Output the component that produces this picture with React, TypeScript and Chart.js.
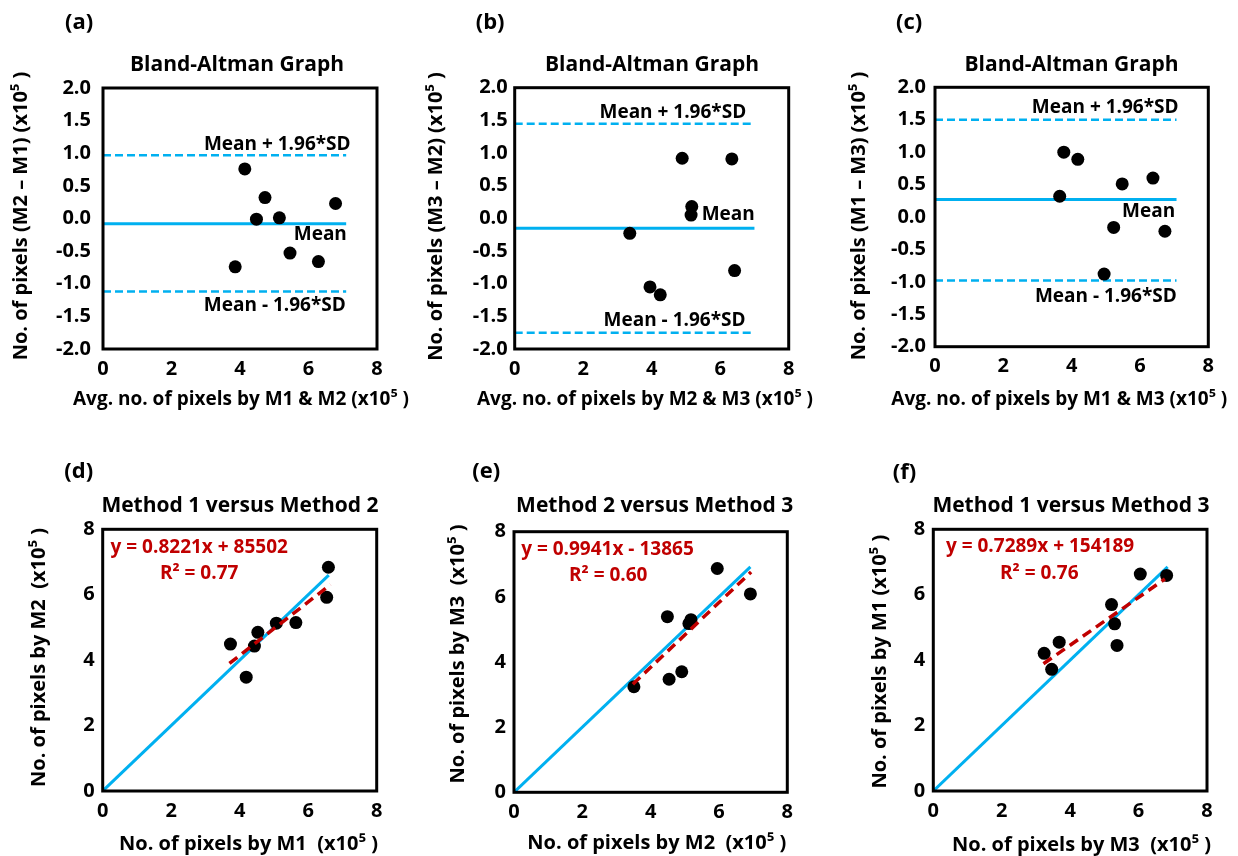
import React, { useEffect, useRef } from 'react';
import { Chart, registerables } from 'chart.js';

Chart.register(...registerables);

const FAMILY = '"Open Sans", "DejaVu Sans", sans-serif';
const BLUE = '#00B0F0';
const RED = '#C00000';

// ---------- Tick labels ----------
const baYTicks = [-2.0, -1.5, -1.0, -0.5, 0.0, 0.5, 1.0, 1.5, 2.0];
const xTicks = [0, 2, 4, 6, 8];
const scatterYTicks = [0, 2, 4, 6, 8];

// ---------- (a) Bland-Altman: M2 - M1 (x10^5) ----------
const avgM1M2 = [4.14, 4.73, 4.48, 5.15, 6.79, 5.46, 6.29, 3.86];
const diffM2M1 = [0.76, 0.32, -0.01, 0.01, 0.23, -0.53, -0.66, -0.74];
const limitsM2M1 = [0.97, -0.08, -1.12]; // upper, mean, lower
const lineEndA = 7.1;

// ---------- (b) Bland-Altman: M3 - M2 ----------
const avgM2M3 = [4.89, 6.34, 5.17, 5.15, 3.36, 3.95, 4.25, 6.42];
const diffM3M2 = [0.92, 0.91, 0.18, 0.05, -0.23, -1.05, -1.17, -0.8];
const limitsM3M2 = [1.45, -0.15, -1.75];
const lineEndB = 7.0;

// ---------- (c) Bland-Altman: M1 - M3 ----------
const avgM1M3 = [3.77, 4.18, 3.65, 5.48, 6.38, 5.23, 6.73, 4.95];
const diffM1M3 = [1.0, 0.89, 0.32, 0.51, 0.6, -0.16, -0.22, -0.88];
const limitsM1M3 = [1.5, 0.27, -0.98];
const lineEndC = 7.07;

// ---------- (d) Method 1 vs Method 2 ----------
const dM1 = [6.59, 6.54, 5.64, 5.07, 4.53, 4.43, 3.73, 4.19];
const dM2 = [6.84, 5.92, 5.15, 5.13, 4.85, 4.43, 4.49, 3.48];
const dFitX = [3.7, 6.65];
const dFitY = [3.9, 6.31];
const dIdentityEnd = 6.6;

// ---------- (e) Method 2 vs Method 3 ----------
const eM2 = [5.95, 6.92, 4.49, 5.18, 5.12, 4.91, 4.54, 3.51];
const eM3 = [6.87, 6.09, 5.39, 5.3, 5.18, 3.7, 3.47, 3.24];
const eFitX = [3.48, 6.94];
const eFitY = [3.32, 6.76];
const eIdentityEnd = 6.92;

// ---------- (f) Method 1 vs Method 3 ----------
const fM3 = [6.05, 6.82, 5.21, 5.3, 5.37, 3.68, 3.24, 3.46];
const fM1 = [6.63, 6.59, 5.7, 5.11, 4.45, 4.55, 4.21, 3.72];
const fFitX = [3.22, 6.77];
const fFitY = [3.89, 6.48];
const fIdentityEnd = 6.85;

type TextItem = {
  text: string;
  x: number;
  y: number;
  align: CanvasTextAlign;
  color: string;
  size: number;
  data?: boolean;
  rotate?: boolean;
};

type Spec = {
  id: string;
  left: number;
  top: number;
  w: number;
  h: number;
  pad: { left: number; top: number; right: number; bottom: number };
  yTickPad: number;
  xTickPad: number;
  yTicks: number[];
  yMin: number;
  yMax: number;
  yFmt: (v: number) => string;
  datasets: any[];
  texts: TextItem[];
};

const Y_SCALE_W = 60;
const X_SCALE_H = 40;

const pts = (xs: number[], ys: number[]) => xs.map((v, i) => ({ x: v, y: ys[i] }));

function baDatasets(avg: number[], diff: number[], limits: number[], lineEnd: number) {
  const hline = (v: number) => [
    { x: 0, y: v },
    { x: lineEnd, y: v },
  ];
  return [
    {
      data: pts(avg, diff),
      showLine: false,
      pointRadius: 6.5,
      pointHoverRadius: 6.5,
      pointBackgroundColor: '#000',
      pointBorderWidth: 0,
      order: 0,
    },
    { data: hline(limits[1]), showLine: true, borderColor: BLUE, borderWidth: 3, pointRadius: 0, order: 1 },
    { data: hline(limits[0]), showLine: true, borderColor: BLUE, borderWidth: 2.5, borderDash: [8, 4], pointRadius: 0, order: 1 },
    { data: hline(limits[2]), showLine: true, borderColor: BLUE, borderWidth: 2.5, borderDash: [8, 4], pointRadius: 0, order: 1 },
  ];
}

function scatterDatasets(xs: number[], ys: number[], fitX: number[], fitY: number[], idEnd: number) {
  return [
    {
      data: pts(xs, ys),
      showLine: false,
      pointRadius: 6.5,
      pointHoverRadius: 6.5,
      pointBackgroundColor: '#000',
      pointBorderWidth: 0,
      order: 1,
    },
    {
      data: [
        { x: 0, y: 0 },
        { x: idEnd, y: idEnd },
      ],
      showLine: true,
      borderColor: BLUE,
      borderWidth: 3,
      pointRadius: 0,
      order: 2,
    },
    {
      data: pts(fitX, fitY),
      showLine: true,
      borderColor: RED,
      borderWidth: 3.5,
      borderDash: [10, 6],
      pointRadius: 0,
      order: 0,
    },
  ];
}

const fmt1 = (v: number) => Number(v).toFixed(1);
const fmt0 = (v: number) => String(v);

function axisTexts(xTitle: string, xPos: number[], xSize: number, yTitle: string, yPos: number[], ySize: number): TextItem[] {
  return [
    { text: xTitle, x: xPos[0], y: xPos[1], align: 'center', color: '#000', size: xSize },
    { text: yTitle, x: yPos[0], y: yPos[1], align: 'center', color: '#000', size: ySize, rotate: true },
  ];
}

function baTexts(label: string, labelX: number, titleX: number, ann: number[][]): TextItem[] {
  return [
    { text: label, x: labelX, y: 23, align: 'left', color: '#000', size: 22 },
    { text: 'Bland-Altman Graph', x: titleX, y: 65, align: 'center', color: '#000', size: 21 },
    { text: 'Mean + 1.96*SD', x: ann[0][0], y: ann[0][1], align: 'right', color: '#000', size: 19, data: true },
    { text: 'Mean', x: ann[1][0], y: ann[1][1], align: 'right', color: '#000', size: 19, data: true },
    { text: 'Mean - 1.96*SD', x: ann[2][0], y: ann[2][1], align: 'right', color: '#000', size: 19, data: true },
  ];
}

function scTexts(label: string, labelX: number, labelY: number, title: string, titleX: number, eq: string, r2: string, ann: number[][]): TextItem[] {
  return [
    { text: label, x: labelX, y: labelY, align: 'left', color: '#000', size: 22 },
    { text: title, x: titleX, y: 78, align: 'center', color: '#000', size: 21 },
    { text: eq, x: ann[0][0], y: ann[0][1], align: 'left', color: RED, size: 19, data: true },
    { text: r2, x: ann[1][0], y: ann[1][1], align: 'left', color: RED, size: 19, data: true },
  ];
}

const panels: Spec[] = [
  {
    id: 'a', left: 0, top: 0, w: 413, h: 428,
    pad: { left: 103 - Y_SCALE_W, top: 88, right: 36, bottom: 428 - 349 - X_SCALE_H }, yTickPad: 12, xTickPad: 8,
    yTicks: baYTicks, yMin: -2, yMax: 2, yFmt: fmt1,
    datasets: baDatasets(avgM1M2, diffM2M1, limitsM2M1, lineEndA),
    texts: [
      ...baTexts('(a)', 65, 237, [[7.23, 1.14], [7.12, -0.25], [7.09, -1.34]]),
      ...axisTexts('Avg. no. of pixels by M1 & M2 (x10\u2075 )', [241, 400], 19, 'No. of pixels (M2 \u2013 M1) (x10\u2075 )', [21.7, 216], 20),
    ],
  },
  {
    id: 'b', left: 413, top: 0, w: 413, h: 428,
    pad: { left: 101.7 - Y_SCALE_W, top: 87.7, right: 37.3, bottom: 428 - 349 - X_SCALE_H }, yTickPad: 7, xTickPad: 8,
    yTicks: baYTicks, yMin: -2, yMax: 2, yFmt: fmt1,
    datasets: baDatasets(avgM2M3, diffM3M2, limitsM3M2, lineEndB),
    texts: [
      ...baTexts('(b)', 62.7, 239, [[6.76, 1.62], [7.01, 0.05], [6.74, -1.57]]),
      ...axisTexts('Avg. no. of pixels by M2 & M3 (x10\u2075 )', [232, 400], 19, 'No. of pixels (M3 \u2013 M2) (x10\u2075 )', [23.7, 216.5], 20),
    ],
  },
  {
    id: 'c', left: 826, top: 0, w: 412, h: 428,
    pad: { left: 109 - Y_SCALE_W, top: 87.3, right: 29.7, bottom: 428 - 346.7 - X_SCALE_H }, yTickPad: 9, xTickPad: 8,
    yTicks: baYTicks, yMin: -2, yMax: 2, yFmt: fmt1,
    datasets: baDatasets(avgM1M3, diffM1M3, limitsM1M3, lineEndC),
    texts: [
      ...baTexts('(c)', 70, 245.5, [[7.13, 1.69], [7.03, 0.08], [7.08, -1.22]]),
      ...axisTexts('Avg. no. of pixels by M1 & M3 (x10\u2075 )', [233.3, 399.3], 19, 'No. of pixels (M1 \u2013 M3) (x10\u2075 )', [33.7, 216], 20),
    ],
  },
  {
    id: 'd', left: 0, top: 428, w: 413, h: 428,
    pad: { left: 102.7 - Y_SCALE_W, top: 101.3, right: 36.3, bottom: 428 - 363 - X_SCALE_H }, yTickPad: 8, xTickPad: 8,
    yTicks: scatterYTicks, yMin: 0, yMax: 8, yFmt: fmt0,
    datasets: scatterDatasets(dM1, dM2, dFitX, dFitY, dIdentityEnd),
    texts: [
      ...scTexts('(d)', 64.3, 44, 'Method 1 versus Method 2', 240, 'y = 0.8221x + 85502', 'R\u00B2 = 0.77', [[0.23, 7.45], [1.67, 6.66]]),
      ...axisTexts('No. of pixels by M1  (x10\u2075 )', [248.5, 416.7], 20, 'No. of pixels by M2  (x10\u2075 )', [39.5, 229.5], 20),
    ],
  },
  {
    id: 'e', left: 413, top: 428, w: 413, h: 428,
    pad: { left: 101 - Y_SCALE_W, top: 103.7, right: 38.7, bottom: 428 - 364.3 - X_SCALE_H }, yTickPad: 8, xTickPad: 8,
    yTicks: scatterYTicks, yMin: 0, yMax: 8, yFmt: fmt0,
    datasets: scatterDatasets(eM2, eM3, eFitX, eFitY, eIdentityEnd),
    texts: [
      ...scTexts('(e)', 59.3, 44, 'Method 2 versus Method 3', 241.7, 'y = 0.9941x - 13865', 'R\u00B2 = 0.60', [[0.21, 7.46], [1.61, 6.64]]),
      ...axisTexts('No. of pixels by M2  (x10\u2075 )', [243.8, 415.7], 20, 'No. of pixels by M3  (x10\u2075 )', [45.5, 226], 20),
    ],
  },
  {
    id: 'f', left: 826, top: 428, w: 412, h: 428,
    pad: { left: 107.3 - Y_SCALE_W, top: 101.3, right: 31, bottom: 428 - 363 - X_SCALE_H }, yTickPad: 8, xTickPad: 8,
    yTicks: scatterYTicks, yMin: 0, yMax: 8, yFmt: fmt0,
    datasets: scatterDatasets(fM3, fM1, fFitX, fFitY, fIdentityEnd),
    texts: [
      ...scTexts('(f)', 66.7, 45, 'Method 1 versus Method 3', 245, 'y = 0.7289x + 154189', 'R\u00B2 = 0.76', [[0.37, 7.47], [1.95, 6.66]]),
      ...axisTexts('No. of pixels by M3  (x10\u2075 )', [255.5, 417.3], 20, 'No. of pixels by M1 (x10\u2075 )', [54.2, 233.7], 20),
    ],
  },
];

const decorPlugin = {
  id: 'panelDecor',
  afterDraw(chart: any, _args: any, opts: any) {
    const { ctx, chartArea: a, scales } = chart;
    ctx.save();
    ctx.lineWidth = 3;
    ctx.strokeStyle = '#000';
    ctx.strokeRect(a.left, a.top, a.right - a.left, a.bottom - a.top);
    const texts: TextItem[] = opts.texts || [];
    for (const t of texts) {
      ctx.save();
      ctx.font = `bold ${t.size}px ${FAMILY}`;
      ctx.fillStyle = t.color;
      ctx.textAlign = t.align;
      ctx.textBaseline = 'middle';
      const px = t.data ? scales.x.getPixelForValue(t.x) : t.x;
      const py = t.data ? scales.y.getPixelForValue(t.y) : t.y;
      if (t.rotate) {
        ctx.translate(px, py);
        ctx.rotate(-Math.PI / 2);
        ctx.fillText(t.text, 0, 0);
      } else {
        ctx.fillText(t.text, px, py);
      }
      ctx.restore();
    }
    ctx.restore();
  },
};

function buildConfig(s: Spec): any {
  const tickFont = { family: FAMILY, size: 20, weight: 'bold' as const };
  return {
    type: 'scatter',
    data: { datasets: s.datasets },
    plugins: [decorPlugin],
    options: {
      responsive: false,
      animation: false,
      devicePixelRatio: 1,
      events: [],
      layout: { padding: s.pad },
      plugins: {
        legend: { display: false },
        tooltip: { enabled: false },
        title: { display: false },
        panelDecor: { texts: s.texts },
      },
      scales: {
        x: {
          type: 'linear',
          min: 0,
          max: 8,
          afterBuildTicks: (sc: any) => {
            sc.ticks = xTicks.map((v) => ({ value: v }));
          },
          afterFit: (sc: any) => {
            sc.height = X_SCALE_H;
          },
          grid: { display: false, drawTicks: false },
          border: { display: false },
          ticks: { color: '#000', font: tickFont, padding: s.xTickPad, maxRotation: 0, autoSkip: false, callback: (v: any) => fmt0(v) },
          title: { display: false },
        },
        y: {
          type: 'linear',
          min: s.yMin,
          max: s.yMax,
          afterBuildTicks: (sc: any) => {
            sc.ticks = s.yTicks.map((v) => ({ value: v }));
          },
          afterFit: (sc: any) => {
            sc.width = Y_SCALE_W;
          },
          grid: { display: false, drawTicks: false },
          border: { display: false },
          ticks: { color: '#000', font: tickFont, padding: s.yTickPad, autoSkip: false, callback: (v: any) => s.yFmt(v) },
          title: { display: false },
        },
      },
    },
  };
}

function Panel({ spec }: { spec: Spec }) {
  const ref = useRef<HTMLCanvasElement>(null);
  useEffect(() => {
    if (!ref.current) return;
    const chart = new Chart(ref.current, buildConfig(spec));
    return () => chart.destroy();
  }, [spec]);
  return (
    <canvas
      ref={ref}
      width={spec.w}
      height={spec.h}
      style={{ position: 'absolute', left: spec.left, top: spec.top, width: spec.w, height: spec.h }}
    />
  );
}

export default function App() {
  return (
    <div style={{ position: 'absolute', left: 0, top: 0, width: 1238, height: 856, background: '#fff', overflow: 'hidden' }}>
      {panels.map((p) => (
        <Panel key={p.id} spec={p} />
      ))}
    </div>
  );
}
